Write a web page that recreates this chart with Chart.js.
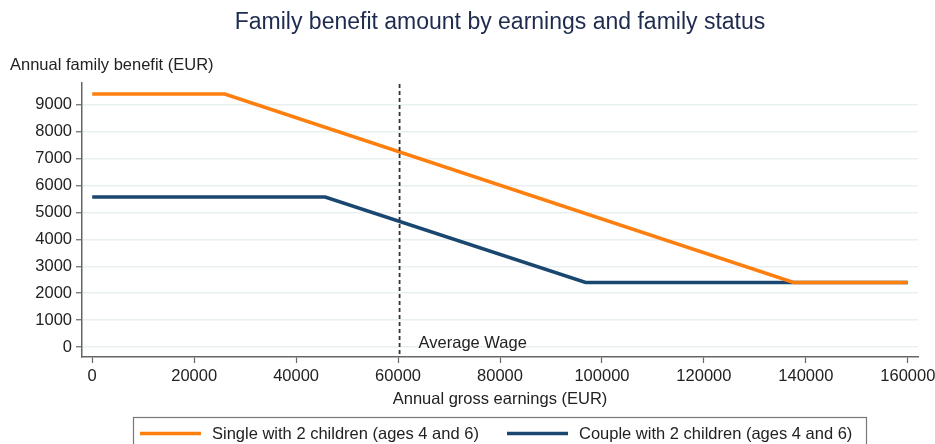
<!DOCTYPE html>
<html>
<head>
<meta charset="utf-8">
<script src="https://cdn.jsdelivr.net/npm/chart.js@4"></script>
<style>
  html, body { margin: 0; padding: 0; background: #fff; }
  #wrap { width: 935px; height: 444px; }
</style>
</head>
<body>
<div id="wrap"><canvas id="benefitChart" width="935" height="444"></canvas></div>
<script>
// Data (EUR)
const singleEarnings = [0, 26000, 137600, 160000];
const singleBenefit = [9400, 9400, 2400, 2400];
const coupleEarnings = [0, 45700, 96800, 160000];
const coupleBenefit = [5570, 5570, 2400, 2400];
const averageWage = 60300;
const seriesLabels = ['Single with 2 children (ages 4 and 6)', 'Couple with 2 children (ages 4 and 6)'];
const xTicks = [0, 20000, 40000, 60000, 80000, 100000, 120000, 140000, 160000];
const yTicks = [0, 1000, 2000, 3000, 4000, 5000, 6000, 7000, 8000, 9000];

const orange = '#ff7f0e';
const navy = '#1a476f';
const axisGrey = '#666666';
const fontFamily = 'Arial, "Liberation Sans", Helvetica, sans-serif';

function toPoints(xs, ys) {
    return xs.map((x, i) => ({ x: x, y: ys[i] }));
}

// Extra drawing: titles, average wage marker and the boxed legend
const decorations = {
    id: 'decorations',
    afterDatasetsDraw(chart) {
        const ctx = chart.ctx;
        const area = chart.chartArea;
        const xScale = chart.scales.x;
        ctx.save();

        // average wage dashed line
        const xw = xScale.getPixelForValue(averageWage);
        ctx.strokeStyle = '#333333';
        ctx.lineWidth = 1.8;
        ctx.setLineDash([4, 3]);
        ctx.beginPath();
        ctx.moveTo(xw, area.top + 1);
        ctx.lineTo(xw, area.bottom);
        ctx.stroke();
        ctx.setLineDash([]);

        ctx.fillStyle = '#222222';
        ctx.font = '16.5px ' + fontFamily;
        ctx.textBaseline = 'middle';
        ctx.textAlign = 'left';
        ctx.fillText('Average Wage', xw + 19, 343);
        ctx.restore();
    },
    afterDraw(chart) {
        const ctx = chart.ctx;
        ctx.save();

        // main title
        ctx.fillStyle = '#1e2b4f';
        ctx.font = '23px ' + fontFamily;
        ctx.textAlign = 'center';
        ctx.textBaseline = 'middle';
        ctx.fillText('Family benefit amount by earnings and family status', 500, 23);

        // y axis title, horizontal at top left
        ctx.fillStyle = '#222222';
        ctx.font = '16.5px ' + fontFamily;
        ctx.textAlign = 'left';
        ctx.fillText('Annual family benefit (EUR)', 10, 65);

        // legend box
        ctx.strokeStyle = '#777777';
        ctx.lineWidth = 1.2;
        ctx.strokeRect(133.5, 417.5, 733, 40);

        const colours = [orange, navy];
        const starts = [140, 507];
        colours.forEach((c, i) => {
            ctx.strokeStyle = c;
            ctx.lineWidth = 3.5;
            ctx.beginPath();
            ctx.moveTo(starts[i], 433.5);
            ctx.lineTo(starts[i] + 61, 433.5);
            ctx.stroke();
            ctx.fillStyle = '#222222';
            ctx.fillText(seriesLabels[i], starts[i] + 72, 434);
        });
        ctx.restore();
    }
};

const ctx = document.getElementById('benefitChart').getContext('2d');
const chart = new Chart(ctx, {
    type: 'line',
    data: {
        datasets: [{
            label: seriesLabels[0],
            data: toPoints(singleEarnings, singleBenefit),
            borderColor: orange,
            borderWidth: 3.5,
            pointRadius: 0,
            fill: false,
            tension: 0
        }, {
            label: seriesLabels[1],
            data: toPoints(coupleEarnings, coupleBenefit),
            borderColor: navy,
            borderWidth: 3.5,
            pointRadius: 0,
            fill: false,
            tension: 0
        }]
    },
    options: {
        responsive: false,
        animation: false,
        layout: { padding: { left: 0, right: 17, top: 83, bottom: 26 } },
        plugins: {
            legend: { display: false },
            title: { display: false },
            tooltip: { enabled: false }
        },
        scales: {
            x: {
                type: 'linear',
                min: -2000,
                max: 162000,
                afterBuildTicks: scale => { scale.ticks = xTicks.map(v => ({ value: v })); },
                afterFit: scale => {
                    scale.height = 61;
                    // let the last tick label overhang into the right margin
                    scale.paddingRight = 0;
                    scale.paddingLeft = 0;
                },
                ticks: {
                    color: '#222222',
                    font: { family: fontFamily, size: 16.5 },
                    padding: 4,
                    maxRotation: 0,
                    autoSkip: false,
                    callback: v => String(v)
                },
                grid: { drawOnChartArea: false, tickColor: axisGrey, tickLength: 6, tickWidth: 1.2 },
                border: { display: true, color: axisGrey, width: 1.5 },
                title: {
                    display: true,
                    text: 'Annual gross earnings (EUR)',
                    color: '#222222',
                    font: { family: fontFamily, size: 16.5 },
                    padding: { top: 0, bottom: 9 }
                }
            },
            y: {
                type: 'linear',
                min: -370,
                max: 9810,
                afterBuildTicks: scale => { scale.ticks = yTicks.map(v => ({ value: v })); },
                afterFit: scale => { scale.width = 82; },
                ticks: {
                    color: '#222222',
                    font: { family: fontFamily, size: 16.5 },
                    padding: 4,
                    callback: v => String(v)
                },
                grid: { color: '#e8f0f2', lineWidth: 1.5, tickColor: axisGrey, tickLength: 6, tickWidth: 1.2 },
                border: { display: true, color: axisGrey, width: 1.5 }
            }
        }
    },
    plugins: [decorations]
});
</script>
</body>
</html>
